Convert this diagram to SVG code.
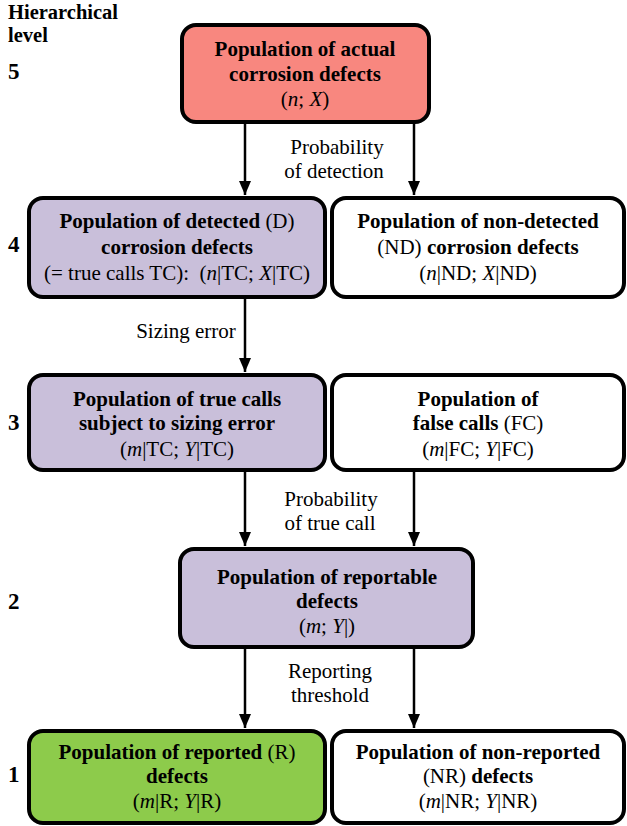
<svg xmlns="http://www.w3.org/2000/svg" width="627" height="826" viewBox="0 0 627 826" font-family="'Liberation Serif', 'DejaVu Serif', serif">
<defs>
<marker id="ah" markerWidth="14" markerHeight="12" refX="14" refY="6" orient="auto" markerUnits="userSpaceOnUse" viewBox="0 0 14 12">
<path d="M0,0 L14,6 L0,12 Z" fill="#000"/>
</marker>
</defs>
<style>
text{font-family:'Liberation Serif','DejaVu Serif',serif;fill:#000}
.t{font-size:21px;text-anchor:middle}
.b{font-weight:bold}
.i{font-style:italic}
.lv{font-size:20.5px;font-weight:bold}
.num{font-size:23px;font-weight:bold}
.lb{font-size:21px;text-anchor:middle}
.box{stroke:#000;stroke-width:4}
.red{fill:#F8877F}
.pur{fill:#C9BFDA}
.grn{fill:#8DCB4B}
.wht{fill:#fff}
.ln{stroke:#000;stroke-width:2.5;fill:none;marker-end:url(#ah)}
</style>
<rect width="627" height="826" fill="#fff"/>
<g id="levels">
<text class="lv" x="8" y="19">Hierarchical</text>
<text class="lv" x="8" y="42">level</text>
<text class="num" x="8" y="79">5</text>
<text class="num" x="8" y="252">4</text>
<text class="num" x="8" y="430">3</text>
<text class="num" x="8" y="609">2</text>
<text class="num" x="8" y="782">1</text>
</g>
<g id="connectors">
<line class="ln" x1="245" y1="123" x2="245" y2="195"/>
<line class="ln" x1="414" y1="123" x2="414" y2="195"/>
<line class="ln" x1="245" y1="299" x2="245" y2="372"/>
<line class="ln" x1="245" y1="471" x2="245" y2="546"/>
<line class="ln" x1="414" y1="471" x2="414" y2="546"/>
<line class="ln" x1="245" y1="648" x2="245" y2="728"/>
<line class="ln" x1="414" y1="648" x2="414" y2="728"/>
<text class="lb" x="337" y="154">Probability</text>
<text class="lb" x="334" y="178">of detection</text>
<text class="lb" x="186" y="338">Sizing error</text>
<text class="lb" x="331" y="506">Probability</text>
<text class="lb" x="330" y="530">of true call</text>
<text class="lb" x="330" y="678">Reporting</text>
<text class="lb" x="330" y="702">threshold</text>
</g>
<g id="n5">
<rect class="box red" x="182" y="25" width="247" height="97" rx="14"/>
<text class="t b" x="305" y="56">Population of actual</text>
<text class="t b" x="305" y="81">corrosion defects</text>
<text class="t" x="305" y="106">(<tspan class="i">n</tspan>; <tspan class="i">X</tspan>)</text>
</g>
<g id="n4d">
<rect class="box pur" x="29" y="198" width="296" height="99" rx="14"/>
<text class="t" x="177" y="228"><tspan class="b">Population of detected</tspan> (D)</text>
<text class="t b" x="177" y="254">corrosion defects</text>
<text class="t" x="177" y="280">(= true calls TC):&#160; (<tspan class="i">n</tspan>|TC; <tspan class="i">X</tspan>|TC)</text>
</g>
<g id="n4nd">
<rect class="box wht" x="332" y="198" width="292" height="99" rx="14"/>
<text class="t b" x="478" y="228">Population of non-detected</text>
<text class="t" x="478" y="254">(ND) <tspan class="b">corrosion defects</tspan></text>
<text class="t" x="478" y="280">(<tspan class="i">n</tspan>|ND; <tspan class="i">X</tspan>|ND)</text>
</g>
<g id="n3tc">
<rect class="box pur" x="29" y="375" width="296" height="95" rx="14"/>
<text class="t b" x="177" y="406">Population of true calls</text>
<text class="t b" x="177" y="430">subject to sizing error</text>
<text class="t" x="177" y="456">(<tspan class="i">m</tspan>|TC; <tspan class="i">Y</tspan>|TC)</text>
</g>
<g id="n3fc">
<rect class="box wht" x="332" y="375" width="292" height="95" rx="14"/>
<text class="t b" x="478" y="406">Population of</text>
<text class="t" x="478" y="430"><tspan class="b">false calls</tspan> (FC)</text>
<text class="t" x="478" y="456">(<tspan class="i">m</tspan>|FC; <tspan class="i">Y</tspan>|FC)</text>
</g>
<g id="n2">
<rect class="box pur" x="180" y="549" width="293" height="98" rx="14"/>
<text class="t b" x="327" y="584">Population of reportable</text>
<text class="t b" x="327" y="608">defects</text>
<text class="t" x="327" y="633">(<tspan class="i">m</tspan>; <tspan class="i">Y</tspan>|)</text>
</g>
<g id="n1r">
<rect class="box grn" x="29" y="731" width="296" height="92" rx="14"/>
<text class="t" x="177" y="759"><tspan class="b">Population of reported</tspan> (R)</text>
<text class="t b" x="177" y="783">defects</text>
<text class="t" x="177" y="808">(<tspan class="i">m</tspan>|R; <tspan class="i">Y</tspan>|R)</text>
</g>
<g id="n1nr">
<rect class="box wht" x="332" y="731" width="292" height="92" rx="14"/>
<text class="t b" x="478" y="759">Population of non-reported</text>
<text class="t" x="478" y="783">(NR) <tspan class="b">defects</tspan></text>
<text class="t" x="478" y="808">(<tspan class="i">m</tspan>|NR; <tspan class="i">Y</tspan>|NR)</text>
</g>
</svg>
